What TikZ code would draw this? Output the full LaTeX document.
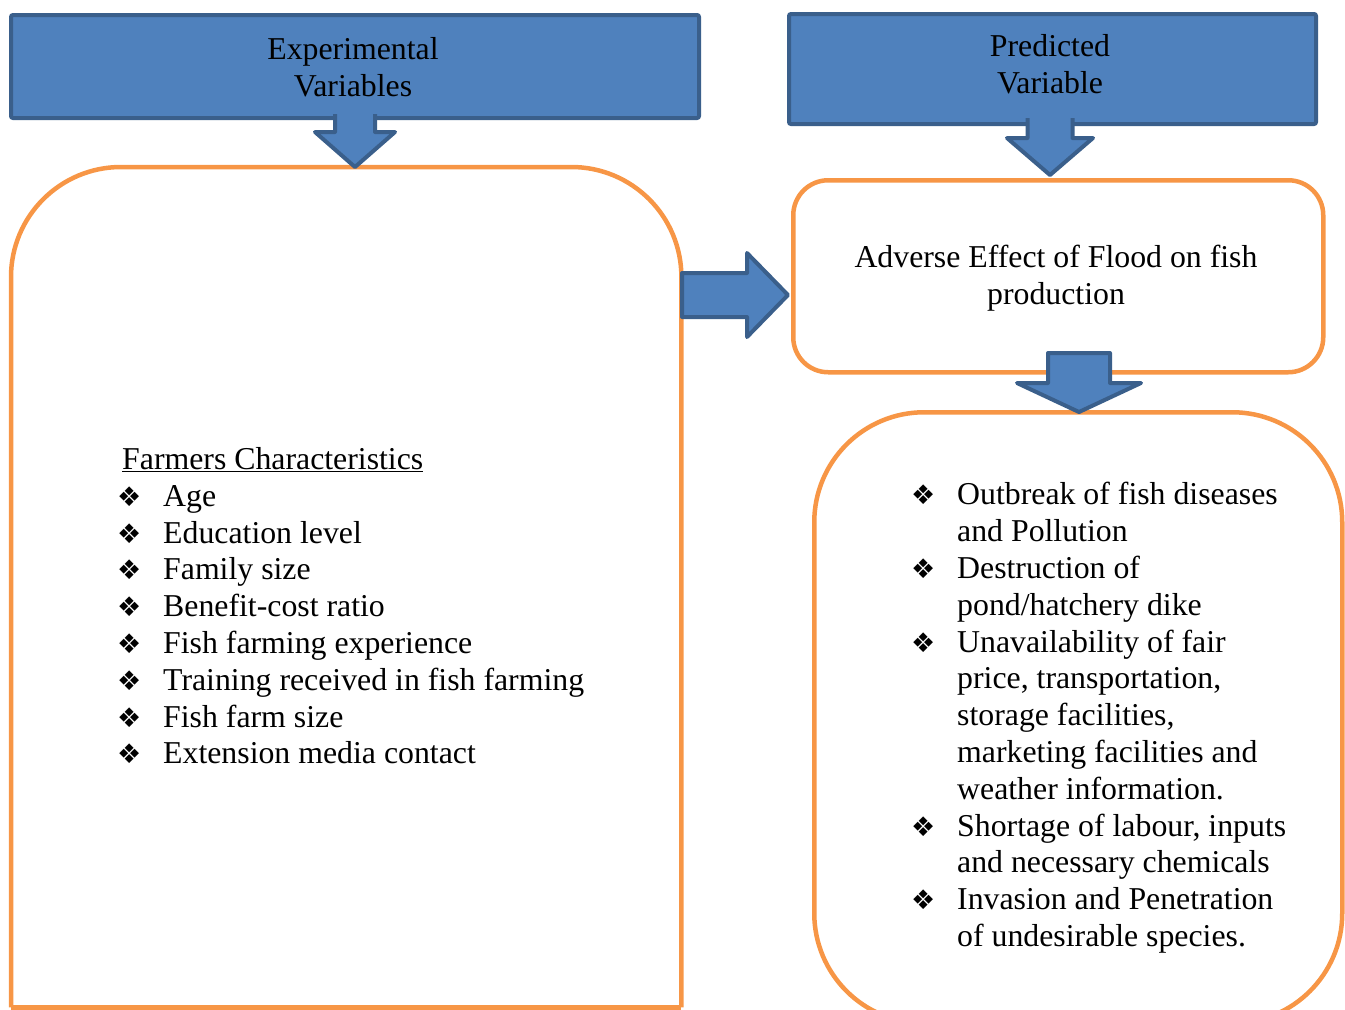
\documentclass[tikz,border=0pt]{standalone}
\usepackage{fontspec}
\setmainfont{Liberation Serif}
\newfontfamily\symfont{DejaVu Sans}
\usetikzlibrary{calc}
\definecolor{bluefill}{HTML}{4F81BD}
\definecolor{blueline}{HTML}{3A5F8B}
\definecolor{orangeline}{HTML}{F79646}
\newcommand\bul{\makebox[47pt][l]{\hspace*{1pt}\symfont\fontsize{27}{27}\selectfont ❖}}
\newcommand\ind{\hspace*{47pt}}
% open-top down arrow: #1 tip, #2 shaft half width, #3 head half width, #4 head length, #5 shaft length
\newcommand\downopen[5]{%
  \fill[bluefill] ($(#1)+(-#2,-#4-#5)$) -- ($(#1)+(-#2,-#4)$) -- ($(#1)+(-#3,-#4)$) -- (#1)
     -- ($(#1)+(#3,-#4)$) -- ($(#1)+(#2,-#4)$) -- ($(#1)+(#2,-#4-#5)$) -- cycle;
  \draw[arrowline] ($(#1)+(-#2,-#4-#5)$) -- ($(#1)+(-#2,-#4)$) -- ($(#1)+(-#3,-#4)$) -- (#1)
     -- ($(#1)+(#3,-#4)$) -- ($(#1)+(#2,-#4)$) -- ($(#1)+(#2,-#4-#5)$);
}
\newcommand\downclosed[5]{%
  \draw[arrowline, fill=bluefill] ($(#1)+(-#2,-#4-#5)$) -- ($(#1)+(-#2,-#4)$) -- ($(#1)+(-#3,-#4)$) -- (#1)
     -- ($(#1)+(#3,-#4)$) -- ($(#1)+(#2,-#4)$) -- ($(#1)+(#2,-#4-#5)$) -- cycle;
}
\newcommand\rightclosed[5]{%
  \draw[arrowline, fill=bluefill] ($(#1)+(-#4-#5,-#2)$) -- ($(#1)+(-#4,-#2)$) -- ($(#1)+(-#4,-#3)$) -- (#1)
     -- ($(#1)+(-#4,#3)$) -- ($(#1)+(-#4,#2)$) -- ($(#1)+(-#4-#5,#2)$) -- cycle;
}
\tikzset{
  bluebox/.style={draw=blueline, fill=bluefill, line width=4pt, rounded corners=2pt, inner sep=0pt},
  orangebox/.style={draw=orangeline, line width=4.5pt, fill=white, inner sep=0pt},
  arrowline/.style={draw=blueline, line width=4pt, line join=round},
  txt/.style={font=\fontsize{31.8}{36.8}\selectfont, inner sep=0pt},
}
\begin{document}
\begin{tikzpicture}[x=1pt,y=-1pt]
\useasboundingbox (0,0) rectangle (1345,1010);
\clip (0,0) rectangle (1345,1010);

% orange boxes
\node[inner sep=0pt, minimum width=670pt, minimum height=840pt, anchor=north west] (leftbox) at (11,167) {};
\draw[orangeline, line width=4.5pt, rounded corners=110pt] (leftbox.south west) -- (leftbox.north west) -- (leftbox.north east) -- (leftbox.south east);
\draw[orangeline, line width=4.5pt, line cap=square] (leftbox.south west) -- (leftbox.south east);

\node[orangebox, rounded corners=35pt, minimum width=530pt, minimum height=192pt, anchor=north west] (effbox) at (791,178) {};
\node[orangebox, rounded corners=110pt, minimum width=528pt, minimum height=611pt, anchor=north west] (impbox) at (812,410) {};

% blue header boxes
\node[bluebox, minimum width=688pt, minimum height=103pt, anchor=north west] (expbox) at (9,13) {};
\node[bluebox, minimum width=527pt, minimum height=110pt, anchor=north west] (predbox) at (787,12) {};

% arrows
\coordinate (t1) at (expbox.south |- leftbox.north);
\downopen{t1}{20}{40}{35}{18}
\coordinate (t2) at (1050,175);
\downopen{t2}{22.5}{43}{37}{20}
\coordinate (t3) at (788,295);
\rightclosed{t3}{22}{42}{41}{65}
\coordinate (t4) at (1079,412);
\downclosed{t4}{31}{62}{29}{30}

% texts
\node[txt, align=center] (exptxt) at (353,70.4) {\strut Experimental\\\strut Variables};
\node[txt, align=center] (predtxt) at (1050,67.5) {\strut Predicted\\\strut Variable};
\node[txt, align=center] (efftxt) at (1056,278.6) {\strut Adverse Effect of Flood on fish\\\strut production};

\node[txt, align=left, anchor=north west] (farmlist) at (116,443.5) {%
\strut\hspace*{6pt}\underline{Farmers Characteristics}\\
\bul Age\\
\bul Education level\\
\bul Family size\\
\bul Benefit-cost ratio\\
\bul Fish farming experience\\
\bul Training received in fish farming\\
\bul Fish farm size\\
\bul Extension media contact};

\node[txt, align=left, anchor=north west] (implist) at (910,479) {%
\strut\bul Outbreak of fish diseases\\
\ind and Pollution\\
\bul Destruction of\\
\ind pond/hatchery dike\\
\bul Unavailability of fair\\
\ind price, transportation,\\
\ind storage facilities,\\
\ind marketing facilities and\\
\ind weather information.\\
\bul Shortage of labour, inputs\\
\ind and necessary chemicals\\
\bul Invasion and Penetration\\
\ind of undesirable species.};
\end{tikzpicture}
\end{document}
